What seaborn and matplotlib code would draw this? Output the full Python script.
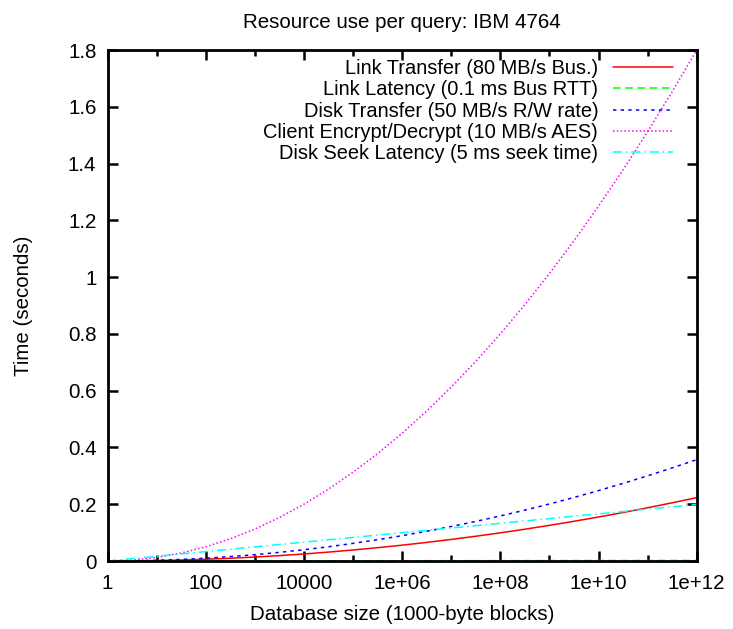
import numpy as np
import pandas as pd
import matplotlib
matplotlib.use("Agg")
import matplotlib.pyplot as plt
import seaborn as sns
from matplotlib.ticker import FixedLocator, FixedFormatter, NullFormatter

# ---- data ----
log10_size = [0, 0.5, 1, 1.5, 2, 2.5, 3, 3.5, 4, 4.5, 5, 5.5, 6, 6.5, 7, 7.5,
              8, 8.5, 9, 9.5, 10, 10.5, 11, 11.5, 12]
link_transfer = [0, 0.0004, 0.0016, 0.0035, 0.0062, 0.0097, 0.0140, 0.0190, 0.0248,
                 0.0314, 0.0388, 0.0469, 0.0558, 0.0655, 0.0760, 0.0872, 0.0992,
                 0.1120, 0.1256, 0.1399, 0.1550, 0.1709, 0.1876, 0.2050, 0.2232]
link_latency = [0, 0.0001, 0.0002, 0.0002, 0.0003, 0.0004, 0.0005, 0.0006, 0.0007,
                0.0007, 0.0008, 0.0009, 0.0010, 0.0011, 0.0012, 0.0012, 0.0013,
                0.0014, 0.0015, 0.0016, 0.0017, 0.0017, 0.0018, 0.0019, 0.0020]
disk_transfer = [0, 0.0006, 0.0025, 0.0056, 0.0099, 0.0155, 0.0223, 0.0304, 0.0397,
                 0.0502, 0.0620, 0.0750, 0.0893, 0.1048, 0.1215, 0.1395, 0.1587,
                 0.1792, 0.2009, 0.2238, 0.2480, 0.2734, 0.3001, 0.3280, 0.3571]
client_crypto = [0, 0.0031, 0.0125, 0.0281, 0.05, 0.0781, 0.1125, 0.1531, 0.2,
                 0.2531, 0.3125, 0.3781, 0.45, 0.5281, 0.6125, 0.7031, 0.8,
                 0.9031, 1.0125, 1.1281, 1.25, 1.3781, 1.5125, 1.6531, 1.8]
disk_seek = [0, 0.0083, 0.0166, 0.0249, 0.0332, 0.0415, 0.0498, 0.0581, 0.0664,
             0.0747, 0.0830, 0.0913, 0.0996, 0.1079, 0.1162, 0.1245, 0.1328,
             0.1411, 0.1494, 0.1577, 0.1660, 0.1743, 0.1826, 0.1909, 0.1992]

labels = ["Link Transfer (80 MB/s Bus.)",
          "Link Latency (0.1 ms Bus RTT)",
          "Disk Transfer (50 MB/s R/W rate)",
          "Client Encrypt/Decrypt (10 MB/s AES)",
          "Disk Seek Latency (5 ms seek time)"]
x_tick_exps = [0, 2, 4, 6, 8, 10, 12]
x_tick_labels = ["1", "100", "10000", "1e+06", "1e+08", "1e+10", "1e+12"]
x_minor_exps = [1, 3, 5, 7, 9, 11]
y_ticks = [0, 0.2, 0.4, 0.6, 0.8, 1.0, 1.2, 1.4, 1.6, 1.8]
y_tick_labels = ["0", "0.2", "0.4", "0.6", "0.8", "1", "1.2", "1.4", "1.6", "1.8"]

colors = ["#ff0000", "#00ff00", "#0000ff", "#ff00ff", "#00ffff"]
styles = ["-", (0, (5, 3)), (0, (2.2, 2.8)), (0, (1, 1.5)), (0, (6, 2.5, 1, 2.5))]

FS = 14.8
LEG_FS = 14.4

sns.set_style("white")
plt.rcParams["font.family"] = ["Liberation Sans", "DejaVu Sans"]
plt.rcParams["text.color"] = "black"
plt.rcParams["axes.labelcolor"] = "black"
plt.rcParams["xtick.color"] = "black"
plt.rcParams["ytick.color"] = "black"

fig = plt.figure(figsize=(7.33, 6.29), dpi=100)
ax = fig.add_axes([0.1467, 0.1081, 0.9505 - 0.1467, 0.9205 - 0.1081])

sizes = np.power(10.0, log10_size)
series = [link_transfer, link_latency, disk_transfer, client_crypto, disk_seek]
for vals, lab, col, ls in zip(series, labels, colors, styles):
    df = pd.DataFrame({"size": sizes, "time": vals})
    sns.lineplot(data=df, x="size", y="time", ax=ax, color=col, label=lab,
                 linewidth=1.1, linestyle=ls, zorder=2, clip_on=True)

ax.set_xscale("log")
ax.set_xlim(1, 1e12)
ax.set_ylim(0, 1.8)

ax.xaxis.set_major_locator(FixedLocator([10.0 ** e for e in x_tick_exps]))
ax.xaxis.set_major_formatter(FixedFormatter(x_tick_labels))
ax.xaxis.set_minor_locator(FixedLocator([10.0 ** e for e in x_minor_exps]))
ax.xaxis.set_minor_formatter(NullFormatter())
ax.yaxis.set_major_locator(FixedLocator(y_ticks))
ax.yaxis.set_major_formatter(FixedFormatter(y_tick_labels))

for sp in ax.spines.values():
    sp.set_visible(True)
    sp.set_linewidth(2.0)
    sp.set_color("black")
    sp.set_zorder(5)

ax.tick_params(which="both", direction="in", top=True, right=True,
               bottom=True, left=True, color="black", width=1.8,
               labelcolor="black")
ax.tick_params(which="major", length=7, labelsize=FS)
ax.tick_params(axis="x", which="major", pad=9)
ax.tick_params(axis="y", which="major", pad=8)
ax.tick_params(which="minor", length=4)

ax.set_xlabel("Database size (1000-byte blocks)", fontsize=FS, labelpad=9,
              color="black")
ax.set_ylabel("Time (seconds)", fontsize=FS, labelpad=25, color="black")
ax.set_title("Resource use per query: IBM 4764", fontsize=FS, pad=16,
             color="black")

leg = ax.legend(loc="upper right", bbox_to_anchor=(0.96, 0.982), frameon=False,
                markerfirst=False, fontsize=LEG_FS, handlelength=3.0,
                handletextpad=0.75, labelspacing=0.11, borderpad=0,
                borderaxespad=0)
for t in leg.get_texts():
    t.set_color("black")

fig.savefig("out.png", dpi=100)
